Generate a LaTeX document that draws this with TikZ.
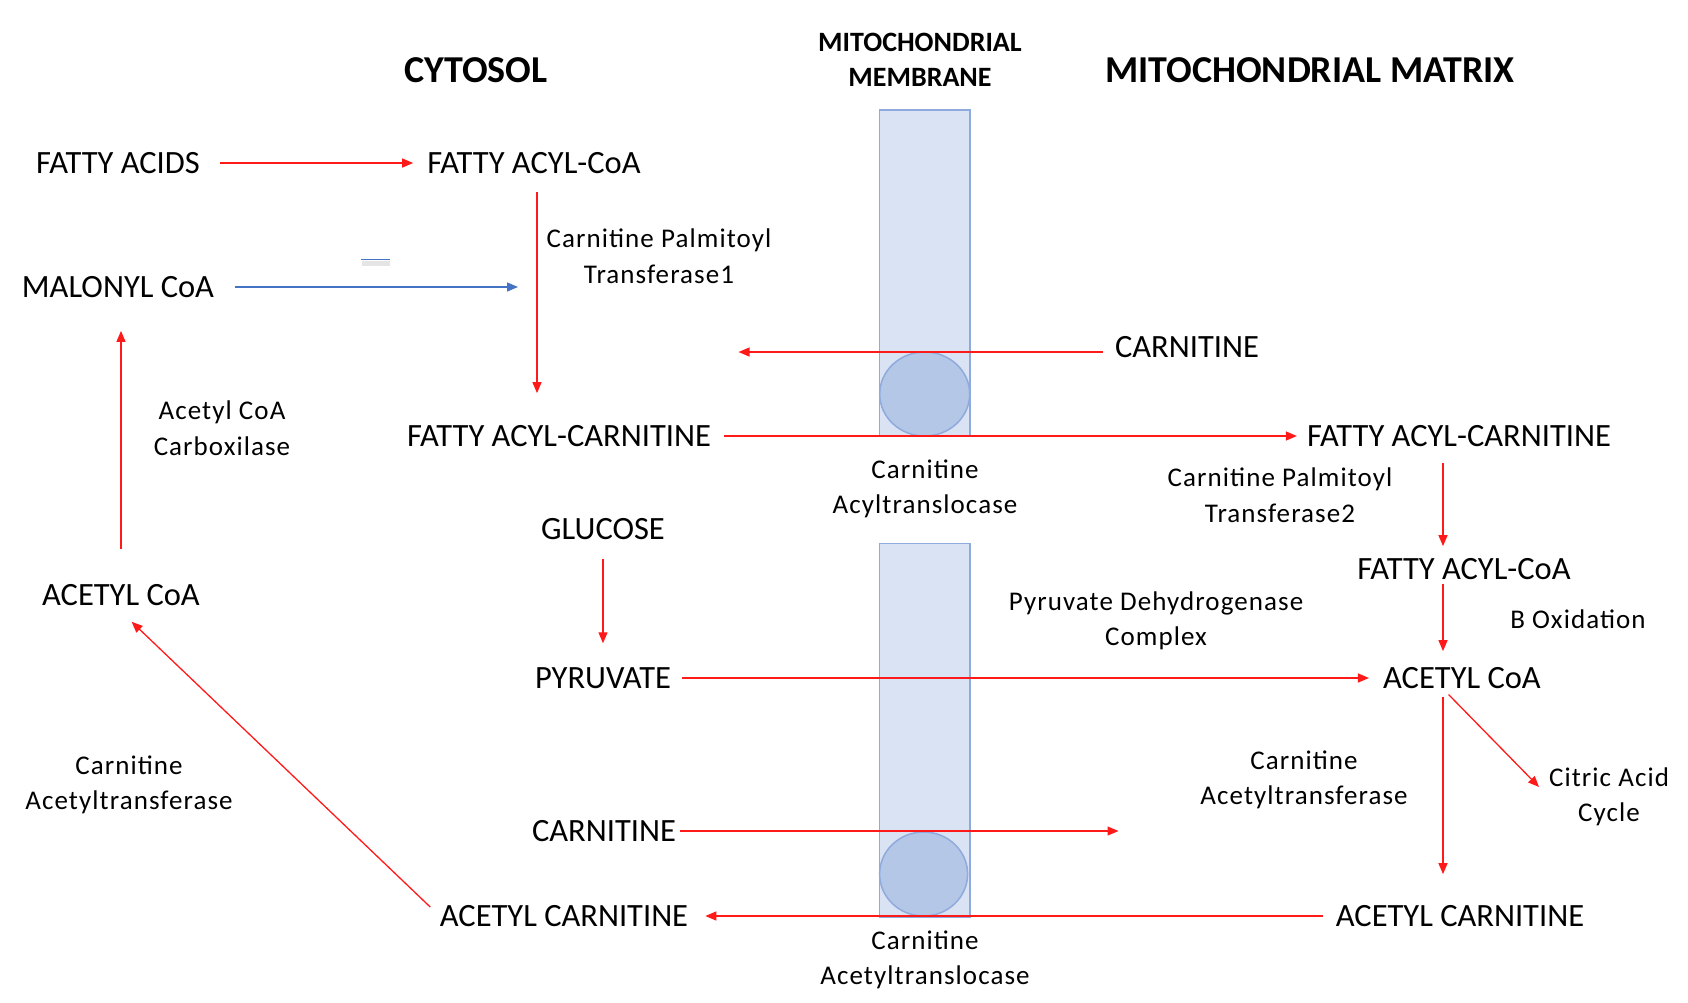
\documentclass[tikz,border=0pt]{standalone}
\usepackage{fontspec}
\setmainfont{Carlito}
\newfontfamily\enzfont[LetterSpace=4]{Carlito}
\usetikzlibrary{arrows.meta}
\definecolor{memfill}{HTML}{DAE3F3}
\definecolor{memline}{HTML}{8FAADC}
\definecolor{chanfill}{HTML}{B4C7E7}
\definecolor{inhib}{HTML}{4472C4}
\definecolor{flow}{HTML}{FF1A1A}
\begin{document}
\begin{tikzpicture}[x=1pt, y=-1pt, every node/.style={inner sep=0pt},
  mol/.style={font=\fontsize{32.5}{39}\selectfont},
  enz/.style={font=\enzfont\fontsize{27}{35.5}\selectfont,align=center},
  hdr/.style={font=\bfseries\fontsize{38}{46}\selectfont,align=center},
  arr/.style={draw=flow,line width=1.3pt,-{Triangle[length=11pt,width=9pt]}},
  membrane/.style={fill=memfill,draw=memline,line width=1.5pt},
  channel/.style={fill=chanfill,draw=memline,line width=1.5pt}]
\useasboundingbox (0,0) rectangle (1688,1002);
% membrane
\draw[membrane] (879.5,110) rectangle (970,436);
\draw[membrane] (879.5,543.5) rectangle (970,917);
\draw[channel] (924.7,394) ellipse (45 and 42);
\draw[channel] (923.6,874) ellipse (44 and 42);
% headers
\node[hdr] (cytosol) at (476,70) {CYTOSOL};
\node[hdr,font=\bfseries\fontsize{28}{34.5}\selectfont] (memhdr) at (920,60) {MITOCHONDRIAL\\MEMBRANE};
\node[hdr] (matrix) at (1310,70) {MITOCHONDRIAL MATRIX};
% molecules
\node[mol] (fattyacids) at (118,163) {FATTY ACIDS};
\node[mol] (facoa1) at (534,163) {FATTY ACYL-CoA};
\node[mol] (malonyl) at (118,287) {MALONYL CoA};
\node[mol] (facar1) at (559,436) {FATTY ACYL-CARNITINE};
\node[mol] (carnR) at (1187,347) {CARNITINE};
\node[mol] (facar2) at (1459,436) {FATTY ACYL-CARNITINE};
\node[mol] (facoa2) at (1464,569) {FATTY ACYL-CoA};
\node[mol] (acoa2) at (1462,678) {ACETYL CoA};
\node[mol] (glucose) at (603,529) {GLUCOSE};
\node[mol] (pyruvate) at (603,678) {PYRUVATE};
\node[mol] (carnL) at (604,831) {CARNITINE};
\node[mol] (acar2) at (1460,916) {ACETYL CARNITINE};
\node[mol] (acar1) at (564,916) {ACETYL CARNITINE};
\node[mol] (acoa1) at (121,595) {ACETYL CoA};
% enzymes
\node[enz] (cptone) at (659,256) {Carnitine Palmitoyl\\Transferase1};
\node[enz] (acyltrans) at (925,489) {Carnitine\\Acyltranslocase};
\node[enz] (cpttwo) at (1280,495) {Carnitine Palmitoyl\\Transferase2};
\node[enz] (boxid) at (1578,619) {B Oxidation};
\node[enz] (pdh) at (1156,621) {Pyruvate Dehydrogenase\\Complex};
\node[enz] (citric) at (1609,797) {Citric Acid\\Cycle};
\node[enz] (catR) at (1304,780) {Carnitine\\Acetyltransferase};
\node[enz] (acetyltrans) at (925,960) {Carnitine\\Acetyltranslocase};
\node[enz] (catL) at (129,785) {Carnitine\\Acetyltransferase};
\node[enz] (acc) at (222,428) {Acetyl CoA\\Carboxilase};
% free ends
\coordinate (spine) at (1443,0);
\coordinate (cptline) at (537,0);
\coordinate (inhibend) at (518,287);
\coordinate (carnRend) at (738.5,352);
\coordinate (carnLend) at (1118.5,831);
% stray mark
\draw[gray!20,line width=5pt] (362,263.5) -- (390,263.5);
\draw[inhib,line width=1.5pt] (361,259.5) -- (390,259.5);
% connectors
\draw[arr,shorten <=20pt,shorten >=14pt] (fattyacids) -- (facoa1);
\draw[arr,shorten <=18pt,shorten >=32pt] (facoa1.south -| cptline) -- (facar1.north -| cptline);
\draw[draw=inhib,line width=1.3pt,-{Triangle[length=11pt,width=9pt]},shorten <=21pt] (malonyl.east) -- (inhibend);
\draw[arr,shorten <=12pt] (carnR.west |- carnRend) -- (carnRend);
\draw[arr,shorten <=13pt,shorten >=10pt] (facar1) -- (facar2);
\draw[arr,shorten <=16pt,shorten >=12pt] (facar2.south -| spine) -- (facoa2.north -| spine);
\draw[arr,shorten <=4pt,shorten >=16pt] (facoa2.south -| spine) -- (acoa2.north -| spine);
\draw[arr,shorten <=8pt,shorten >=14pt] (acoa2.south -| spine) -- (citric.west);
\draw[arr,shorten <=8pt,shorten >=31pt] (acoa2.south -| spine) -- (acar2.north -| spine);
\draw[arr,shorten <=19pt,shorten >=24pt] (glucose.south) -- (pyruvate.north);
\draw[arr,shorten <=11pt,shorten >=14pt] (pyruvate) -- (acoa2);
\draw[arr,shorten <=4pt] (carnL.east) -- (carnLend);
\draw[arr,shorten <=13pt,shorten >=17pt] (acar2) -- (acar1);
\draw[arr,shorten <=13pt,shorten >=23pt] (acar1.west) -- ([xshift=-6pt]acoa1.south);
\draw[arr,shorten <=35pt,shorten >=33pt] (acoa1.north) -- (acoa1.north |- malonyl.south);
\end{tikzpicture}
\end{document}
